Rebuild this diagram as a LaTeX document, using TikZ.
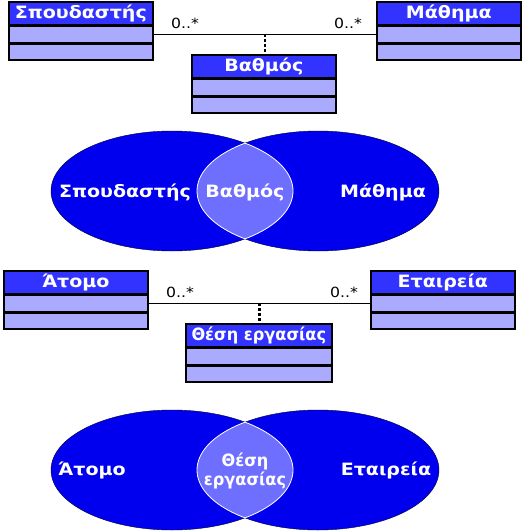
\documentclass[tikz,border=0pt]{standalone}
\usepackage{fontspec}
\usepackage{tikz}
\usetikzlibrary{calc}
\newfontfamily\boxfont[FakeStretch=1.12]{DejaVu Sans}
\newfontfamily\jobfont[FakeStretch=0.95]{DejaVu Sans}
\definecolor{headblue}{RGB}{51,51,255}
\definecolor{rowblue}{RGB}{170,170,255}
\definecolor{vennblue}{RGB}{0,0,238}
\definecolor{lensblue}{RGB}{110,110,255}

\begin{document}
\begin{tikzpicture}
      [
      x=1pt,y=-1pt,
      classhead/.style={draw,line width=1.6pt,fill=headblue,text=white,anchor=north west,inner sep=0pt,
        minimum width=144pt,minimum height=23pt,font=\boxfont\bfseries\fontsize{17}{18}\selectfont},
      classrow/.style={draw,line width=1.6pt,fill=rowblue,anchor=north west,inner sep=0pt,
        minimum width=144pt,minimum height=16pt},
      mult/.style={inner sep=0pt,font=\boxfont\fontsize{14}{15}\selectfont},
      venntext/.style={text=white,align=center,inner sep=0pt,
        font=\boxfont\bfseries\fontsize{17}{13.5}\selectfont},
      assoc/.style={line width=1.2pt},
      linkdash/.style={line width=2.4pt,dash pattern=on 3pt off 2pt}
      ]
      \useasboundingbox (0,0) rectangle (527,532);
      % first class diagram
      \node (stud) at (8,1) [classhead] {Σπουδαστής};
      \node (studa) at (stud.south west) [classrow] {};
      \node (studb) at (studa.south west) [classrow] {};
      \node (math) at (376,1) [classhead] {Μάθημα};
      \node (matha) at (math.south west) [classrow] {};
      \node (mathb) at (matha.south west) [classrow] {};
      \node (grade) at (191,54) [classhead] {Βαθμός};
      \node (gradea) at (grade.south west) [classrow] {};
      \node (gradeb) at (gradea.south west) [classrow] {};
      \draw [assoc] (studa.east) to (matha.west);
      \coordinate (link1) at ($(studa.east)!0.5!(matha.west)$);
      \draw [linkdash] (link1) to (link1 |- grade.north);
      \node (m1) at (185,23) [mult] {0..*};
      \node (m2) at (348,23) [mult] {0..*};
      % first venn diagram
      \filldraw [fill=vennblue,draw=black!80!blue,thin] (172,191) ellipse [x radius=121,y radius=60];
      \filldraw [fill=vennblue,draw=black!80!blue,thin] (318,191) ellipse [x radius=121,y radius=60];
      \begin{scope}
        \clip (172,191) ellipse [x radius=121,y radius=60];
        \filldraw [fill=lensblue,draw=white,thick] (318,191) ellipse [x radius=121,y radius=60];
      \end{scope}
      \begin{scope}
        \clip (318,191) ellipse [x radius=121,y radius=60];
        \draw [white,thick] (172,191) ellipse [x radius=121,y radius=60];
      \end{scope}
      \node (vstud) at (125,192) [venntext] {Σπουδαστής};
      \node (vgrade) at (245,192) [venntext] {Βαθμός};
      \node (vmath) at (383,192) [venntext] {Μάθημα};
      % second class diagram
      \node (atom) at (3,270) [classhead] {Άτομο};
      \node (atoma) at (atom.south west) [classrow] {};
      \node (atomb) at (atoma.south west) [classrow] {};
      \node (firm) at (370,270) [classhead] {Εταιρεία};
      \node (firma) at (firm.south west) [classrow] {};
      \node (firmb) at (firma.south west) [classrow] {};
      \node (job) at (185,323) [classhead,minimum width=146pt,font=\jobfont\bfseries\fontsize{17}{18}\selectfont] {Θέση εργασίας};
      \node (joba) at (job.south west) [classrow,minimum width=146pt] {};
      \node (jobb) at (joba.south west) [classrow,minimum width=146pt] {};
      \draw [assoc] (atoma.east) to (firma.west);
      \coordinate (link2) at ($(atoma.east)!0.5!(firma.west)$);
      \draw [linkdash] (link2) to (link2 |- job.north);
      \node (m3) at (180,292) [mult] {0..*};
      \node (m4) at (344,292) [mult] {0..*};
      % second venn diagram
      \filldraw [fill=vennblue,draw=black!80!blue,thin] (172,470) ellipse [x radius=121,y radius=60];
      \filldraw [fill=vennblue,draw=black!80!blue,thin] (318,470) ellipse [x radius=121,y radius=60];
      \begin{scope}
        \clip (172,470) ellipse [x radius=121,y radius=60];
        \filldraw [fill=lensblue,draw=white,thick] (318,470) ellipse [x radius=121,y radius=60];
      \end{scope}
      \begin{scope}
        \clip (318,470) ellipse [x radius=121,y radius=60];
        \draw [white,thick] (172,470) ellipse [x radius=121,y radius=60];
      \end{scope}
      \node (vatom) at (92,470) [venntext] {Άτομο};
      \node (vjob) at (245,471) [venntext,font=\jobfont\bfseries\fontsize{17}{13.5}\selectfont] {Θέση\\εργασίας};
      \node (vfirm) at (386,470) [venntext] {Εταιρεία};
    \end{tikzpicture}
\end{document}
